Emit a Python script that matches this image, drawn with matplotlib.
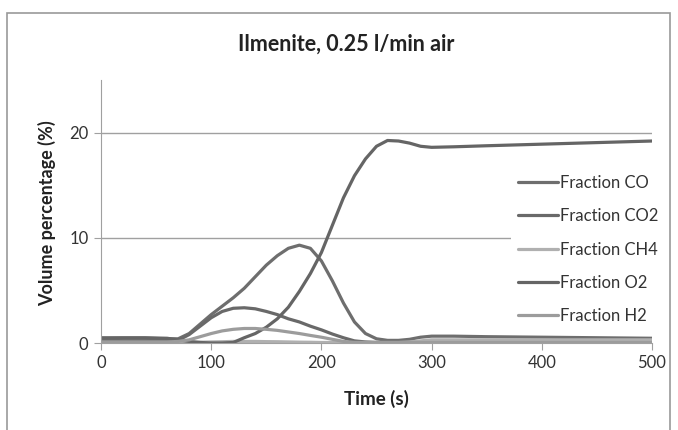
import matplotlib
matplotlib.use("Agg")
import matplotlib.pyplot as plt
from matplotlib.patches import Rectangle

plt.rcParams['font.family'] = ['Lato', 'DejaVu Sans']

# time axis (s)
time = [0, 20, 40, 60, 70, 80, 90, 100, 110, 120, 130, 140, 150, 160, 170,
        180, 190, 200, 210, 220, 230, 240, 250, 260, 270, 280, 290, 300,
        320, 350, 400, 450, 500]

frac_co = [0.4, 0.45, 0.45, 0.4, 0.4, 0.9, 1.8, 2.7, 3.5, 4.3, 5.2, 6.3, 7.4,
           8.3, 9.0, 9.3, 9.0, 7.8, 5.9, 3.8, 2.0, 0.9, 0.4, 0.25, 0.25, 0.35,
           0.55, 0.65, 0.65, 0.6, 0.55, 0.5, 0.45]
frac_co2 = [0.2, 0.2, 0.2, 0.2, 0.25, 0.8, 1.6, 2.4, 3.0, 3.3, 3.35, 3.25, 3.0,
            2.7, 2.3, 2.0, 1.6, 1.25, 0.85, 0.5, 0.2, 0.1, 0.05, 0.05, 0.05,
            0.1, 0.1, 0.1, 0.1, 0.1, 0.1, 0.1, 0.1]
frac_ch4 = [0.05, 0.05, 0.05, 0.05, 0.05, 0.05, 0.08, 0.1, 0.12, 0.15, 0.15,
            0.15, 0.13, 0.12, 0.1, 0.08, 0.07, 0.05, 0.05, 0.05, 0.05, 0.05,
            0.05, 0.05, 0.05, 0.1, 0.2, 0.3, 0.3, 0.3, 0.3, 0.3, 0.3]
frac_o2 = [0.5, 0.5, 0.5, 0.45, 0.3, 0.15, 0.05, 0.0, 0.0, 0.05, 0.5, 0.9, 1.5,
           2.3, 3.4, 4.9, 6.6, 8.6, 11.2, 13.8, 15.9, 17.5, 18.7, 19.25, 19.2,
           19.0, 18.7, 18.6, 18.65, 18.75, 18.9, 19.05, 19.2]
frac_h2 = [0.1, 0.1, 0.1, 0.1, 0.15, 0.3, 0.6, 0.9, 1.15, 1.3, 1.38, 1.38, 1.3,
           1.2, 1.05, 0.9, 0.72, 0.55, 0.35, 0.15, 0.05, 0.05, 0.05, 0.05, 0.05,
           0.05, 0.05, 0.05, 0.05, 0.05, 0.05, 0.05, 0.05]

labels = ['Fraction CO', 'Fraction CO2', 'Fraction CH4', 'Fraction O2', 'Fraction H2']
colors = ['#6e6e6e', '#696969', '#b0b0b0', '#656565', '#9c9c9c']

fig = plt.figure(figsize=(6.78, 4.3), dpi=100)
fig.patches.append(Rectangle((7/678, -0.1), 663/678, 1.1 - 13/430,
                             transform=fig.transFigure, fill=False,
                             edgecolor='#999999', linewidth=1.2))
ax = fig.add_axes([101/678, 1 - 343/430, 551/678, 263/430])

for y, lab, c in zip([frac_co, frac_co2, frac_ch4, frac_o2, frac_h2], labels, colors):
    ax.plot(time, y, color=c, lw=2.3, label=lab, solid_capstyle='round')

ax.set_xlim(0, 500)
ax.set_ylim(0, 25)
ax.set_xticks([0, 100, 200, 300, 400, 500])
ax.set_yticks([0, 10, 20])
ax.grid(axis='y', color='#a0a0a0', lw=1)
ax.set_axisbelow(True)
for s in ['top', 'right']:
    ax.spines[s].set_visible(False)
for s in ['left', 'bottom']:
    ax.spines[s].set_color('#a0a0a0')
ax.tick_params(colors='#a0a0a0', labelcolor='#333333', labelsize=12, length=5)
ax.tick_params(axis='y', pad=4)

ax.set_xlabel('Time (s)', fontsize=13.5, fontweight='bold', color='#222222', labelpad=14)
fig.text(47/678, 1 - 213/430, 'Volume percentage (%)', rotation=90,
         ha='center', va='center', fontsize=13, fontweight='bold', color='#222222')
fig.text(346/678, 1 - 44/430, 'Ilmenite, 0.25 l/min air', ha='center', va='center',
         fontsize=15.5, fontweight='bold', color='#222222')

leg = ax.legend(loc='upper left', bbox_to_anchor=(503/678, 1 - 160/430),
                bbox_transform=fig.transFigure, frameon=True, fancybox=False,
                fontsize=12, handlelength=2.4, handletextpad=0.1,
                labelspacing=1.04, borderpad=0.4)
leg.get_frame().set_edgecolor('none')
leg.get_frame().set_facecolor('white')
leg.get_frame().set_alpha(1)
for t in leg.get_texts():
    t.set_color('#333333')

fig.savefig('out.png', dpi=100)
